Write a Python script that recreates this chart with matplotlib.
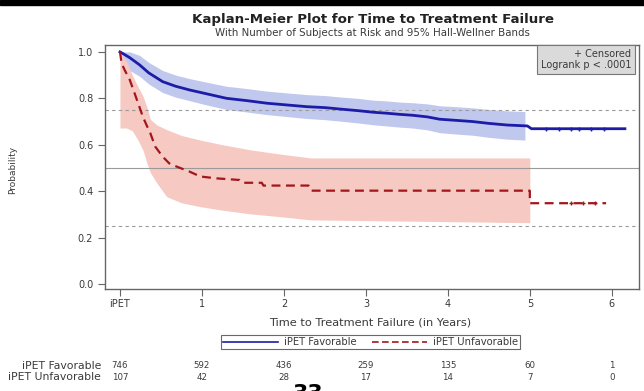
import matplotlib
matplotlib.use('Agg')
import matplotlib.pyplot as plt
import matplotlib.transforms as mtransforms
from matplotlib.lines import Line2D
from matplotlib.patches import Rectangle

plt.rcParams['font.family'] = ['DejaVu Sans']

# iPET Favorable: KM estimate (many small steps, read as a line)
fav_t = [0, 0.05, 0.12, 0.24, 0.35, 0.52, 0.68, 0.85, 1.05, 1.30, 1.55, 1.79, 2.05, 2.28, 2.50,
         2.68, 2.90, 3.09, 3.25, 3.41, 3.57, 3.75, 3.90, 4.10, 4.30, 4.50, 4.72, 4.97, 5.02, 6.16]
fav_s = [1.0, 0.99, 0.975, 0.944, 0.91, 0.872, 0.852, 0.836, 0.82, 0.80, 0.79, 0.779, 0.771, 0.764, 0.76,
         0.754, 0.747, 0.740, 0.736, 0.731, 0.727, 0.72, 0.71, 0.705, 0.70, 0.692, 0.685, 0.681, 0.669, 0.669]
# Hall-Wellner band
fav_band_t = [0, 0.05, 0.12, 0.24, 0.35, 0.52, 0.68, 0.85, 1.05, 1.30, 1.55, 1.79, 2.05, 2.28,
              2.50, 2.68, 2.90, 3.09, 3.25, 3.41, 3.57, 3.75, 3.90, 4.10, 4.30, 4.50, 4.72, 4.94]
fav_hi = [1.0, 1.0, 1.0, 0.985, 0.955, 0.92, 0.90, 0.885, 0.87, 0.852, 0.842, 0.831, 0.823, 0.816,
          0.812, 0.806, 0.80, 0.792, 0.789, 0.784, 0.781, 0.776, 0.768, 0.764, 0.759, 0.752, 0.746, 0.743]
fav_lo = [1.0, 0.95, 0.92, 0.895, 0.862, 0.825, 0.805, 0.79, 0.772, 0.752, 0.741, 0.73, 0.721, 0.713,
          0.708, 0.702, 0.694, 0.686, 0.681, 0.676, 0.672, 0.664, 0.652, 0.646, 0.641, 0.632, 0.624, 0.62]
fav_cens_t = [5.2, 5.35, 5.5, 5.6, 5.75, 5.9]
fav_cens_s = [0.669, 0.669, 0.669, 0.669, 0.669, 0.669]

# iPET Unfavorable
unf_t = [0, 0.02, 0.06, 0.12, 0.16, 0.20, 0.24, 0.28, 0.33, 0.37, 0.43, 0.52, 0.60, 0.69, 0.85,
         0.98, 1.18, 1.46, 1.50, 1.73, 1.75, 2.30, 2.33, 5.0, 5.0, 5.93]
unf_s = [1.0, 0.95, 0.92, 0.879, 0.84, 0.80, 0.76, 0.72, 0.68, 0.65, 0.592, 0.549, 0.52, 0.506, 0.484,
         0.463, 0.455, 0.448, 0.436, 0.436, 0.424, 0.424, 0.402, 0.402, 0.348, 0.348]
unf_band_t = [0, 0.08, 0.15, 0.22, 0.28, 0.33, 0.37, 0.45, 0.57, 0.75, 0.98, 1.25, 1.59, 1.95, 2.33, 5.0]
unf_hi = [1.0, 0.96, 0.9, 0.85, 0.81, 0.76, 0.71, 0.685, 0.665, 0.64, 0.62, 0.60, 0.578, 0.56, 0.543, 0.543]
unf_lo = [0.672, 0.672, 0.66, 0.62, 0.577, 0.52, 0.48, 0.435, 0.376, 0.35, 0.333, 0.318, 0.302, 0.29, 0.276, 0.264]
unf_cens_t = [5.5, 5.65, 5.8]
unf_cens_s = [0.348, 0.348, 0.348]

xticks = [0, 1, 2, 3, 4, 5, 6]
xticklabels = ['iPET', '1', '2', '3', '4', '5', '6']
yticks = [0.0, 0.2, 0.4, 0.6, 0.8, 1.0]
risk_fav = ['746', '592', '436', '259', '135', '60', '1']
risk_unf = ['107', '42', '28', '17', '14', '7', '0']

blue = '#1c1ca8'
red = '#a3161c'
txt = '#3a3a3a'
axc = '#666666'

fig = plt.figure(figsize=(6.44, 3.91), dpi=100)
ax = fig.add_axes([0.163, 0.261, 0.829, 0.624])

ax.fill_between(fav_band_t, fav_lo, fav_hi, color='#c0c8ee', lw=0, zorder=1)
ax.fill_between(unf_band_t, unf_lo, unf_hi, color='#f6c9c3', lw=0, zorder=1)

for yv, ls in [(0.75, (0, (3, 3))), (0.5, '-'), (0.25, (0, (3, 3)))]:
    ax.axhline(yv, color='#9a9a9a', lw=0.8, ls=ls, zorder=2)

ax.plot(fav_t, fav_s, color=blue, lw=2.0, zorder=3)
ax.plot(unf_t, unf_s, color=red, lw=1.6, ls=(0, (4, 2.5)), zorder=3)
ax.plot(fav_cens_t, fav_cens_s, ls='none', marker='+', ms=3, mew=1, color=blue, zorder=4)
ax.plot(unf_cens_t, unf_cens_s, ls='none', marker='+', ms=3, mew=1, color=red, zorder=4)

ax.set_xlim(-0.183, 6.33)
ax.set_ylim(-0.0216, 1.03)
ax.set_xticks(xticks)
ax.set_xticklabels(xticklabels)
ax.set_yticks(yticks)
ax.set_yticklabels(['%.1f' % v for v in yticks])
ax.tick_params(direction='out', length=5, width=0.8, color=axc, labelsize=7, labelcolor=txt, pad=2)
ax.tick_params(axis='y', pad=3.5)
for s in ax.spines.values():
    s.set_color(axc)
    s.set_linewidth(1.0)

# inset
ax.text(0.986, 0.985, '+ Censored\nLogrank p < .0001', transform=ax.transAxes, ha='right', va='top',
        fontsize=7, color=txt, linespacing=1.2,
        bbox=dict(boxstyle='square,pad=0.4', facecolor='#dadada', edgecolor='#777777', lw=0.8))

# titles and labels
fig.text(0.579, 0.949, 'Kaplan-Meier Plot for Time to Treatment Failure', ha='center', va='center',
         fontsize=9.6, fontweight='bold', color='#222222')
fig.text(0.579, 0.916, 'With Number of Subjects at Risk and 95% Hall-Wellner Bands', ha='center',
         va='center', fontsize=7.4, color=txt)
fig.text(0.575, 0.174, 'Time to Treatment Failure (in Years)', ha='center', va='center',
         fontsize=8.2, color=txt)
fig.text(0.019, 0.565, 'Probability', rotation=90, ha='center', va='center', fontsize=6.5, color=txt)

handles = [Line2D([], [], color=blue, lw=1.2),
           Line2D([], [], color=red, lw=1.2, ls=(0, (4, 2)))]
leg = fig.legend(handles, ['iPET Favorable', 'iPET Unfavorable'], loc='center',
                 bbox_to_anchor=(0.575, 1 - 342 / 391), ncol=2, fontsize=7.2, frameon=True,
                 fancybox=False, edgecolor='#444444', handlelength=5.5, borderpad=0.2,
                 columnspacing=1.5, handletextpad=0.6, labelcolor=txt)
leg.get_frame().set_linewidth(0.8)

# at-risk table
tr = mtransforms.blended_transform_factory(ax.transData, fig.transFigure)
y1 = 1 - 366 / 391
y2 = 1 - 377 / 391
fig.text(0.157, y1, 'iPET Favorable', ha='right', va='center', fontsize=7.8, color=txt)
fig.text(0.157, y2, 'iPET Unfavorable', ha='right', va='center', fontsize=7.8, color=txt)
for xv, a, b in zip(xticks, risk_fav, risk_unf):
    ax.text(xv, y1, a, transform=tr, ha='center', va='center', fontsize=6.2, color=txt)
    ax.text(xv, y2, b, transform=tr, ha='center', va='center', fontsize=6.2, color=txt)

# screenshot border and cut-off page number
fig.patches.append(Rectangle((0, 1 - 5 / 391), 1, 5 / 391, transform=fig.transFigure,
                             color='black', zorder=10))
fig.text(0.455, 1 - 384 / 391, '33', ha='left', va='top', fontsize=16, fontweight='bold', color='black')

fig.savefig('out.png', dpi=100)
